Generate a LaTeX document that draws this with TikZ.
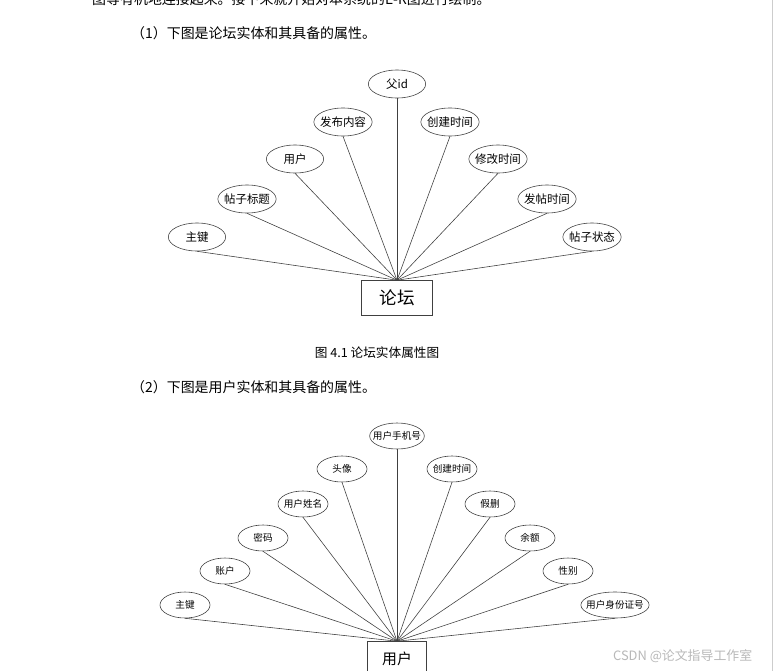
\documentclass[tikz,border=0pt]{standalone}
\usepackage{fontspec}
\setmainfont{Noto Sans CJK SC}
\usetikzlibrary{shapes.geometric}
\definecolor{LineGray}{rgb}{0.25, 0.25, 0.25}
\definecolor{MarkGray}{rgb}{0.72, 0.72, 0.72}

\begin{document}
\begin{tikzpicture}[
    x=0.03cm, y=-0.03cm,
    attr/.style={ellipse, draw=LineGray, line width=0.5pt, inner xsep=-2pt, inner ysep=0pt,
        minimum width=1.72cm, minimum height=0.84cm,
        font=\fontsize{9.8pt}{10pt}\selectfont},
    attrsmall/.style={attr, inner xsep=-4pt, minimum width=1.5cm, minimum height=0.78cm,
        font=\fontsize{8.2pt}{9pt}\selectfont},
    entity/.style={draw=LineGray, line width=0.5pt, minimum width=2.13cm, minimum height=1.05cm,
        font=\fontsize{15pt}{16pt}\selectfont},
    link/.style={draw=LineGray, line width=0.5pt},
    para/.style={anchor=west, inner sep=0pt, font=\fontsize{11.9pt}{13pt}\selectfont},
]
\useasboundingbox (0,0) rectangle (776,671);

% 正文
\node[para] (prev) at (92,-1) {图等有机地连接起来。接下来就开始对本系统的E-R图进行绘制。};
\node[para] (intro1) at (131,33) {（1）下图是论坛实体和其具备的属性。};

% 论坛实体
\node[entity] (forum) at (397,298) {论坛};

\node[attr] (fpk)      at (197,237) {主键};
\node[attr] (ftitle)   at (247,199) {帖子标题};
\node[attr] (fuser)    at (295,159) {用户};
\node[attr] (fcontent) at (343,122) {发布内容};
\node[attr] (fparent)  at (397,84)  {父id};
\node[attr] (fcreate)  at (450,122) {创建时间};
\node[attr] (fmodify)  at (498,159) {修改时间};
\node[attr] (fpost)    at (547,199) {发帖时间};
\node[attr] (fstate)   at (592,237) {帖子状态};

\draw[link] (fpk.south)      -- (forum.north);
\draw[link] (ftitle.south)   -- (forum.north);
\draw[link] (fuser.south)    -- (forum.north);
\draw[link] (fcontent.south) -- (forum.north);
\draw[link] (fparent.south)  -- (forum.north);
\draw[link] (fcreate.south)  -- (forum.north);
\draw[link] (fmodify.south)  -- (forum.north);
\draw[link] (fpost.south)    -- (forum.north);
\draw[link] (fstate.south)   -- (forum.north);

\node[font=\fontsize{10.8pt}{12pt}\selectfont] (cap1) at (377,353) {图 4.1 论坛实体属性图};

\node[para] (intro2) at (131,387) {（2）下图是用户实体和其具备的属性。};

% 用户实体
\node[entity, minimum width=1.77cm, font=\fontsize{12.7pt}{14pt}\selectfont] (user) at (397,659) {用户};

\node[attrsmall] (upk)      at (185,605) {主键};
\node[attrsmall] (uaccount) at (225,571) {账户};
\node[attrsmall] (upass)    at (263,538) {密码};
\node[attrsmall] (uname)    at (303,504) {用户姓名};
\node[attrsmall] (uavatar)  at (342,469) {头像};
\node[attrsmall] (uphone)   at (397,436) {用户手机号};
\node[attrsmall] (ucreate)  at (452,469) {创建时间};
\node[attrsmall] (udel)     at (490,504) {假删};
\node[attrsmall] (ubalance) at (530,538) {余额};
\node[attrsmall] (usex)     at (568,571) {性别};
\node[attrsmall] (uidcard)  at (615,605) {用户身份证号};

\draw[link] (upk.south)      -- (user.north);
\draw[link] (uaccount.south) -- (user.north);
\draw[link] (upass.south)    -- (user.north);
\draw[link] (uname.south)    -- (user.north);
\draw[link] (uavatar.south)  -- (user.north);
\draw[link] (uphone.south)   -- (user.north);
\draw[link] (ucreate.south)  -- (user.north);
\draw[link] (udel.south)     -- (user.north);
\draw[link] (ubalance.south) -- (user.north);
\draw[link] (usex.south)     -- (user.north);
\draw[link] (uidcard.south)  -- (user.north);

% 水印与边线
\node[anchor=west, text=MarkGray, font=\fontsize{11pt}{12pt}\selectfont] (mark) at (609,656)
    {CSDN @论文指导工作室};
\draw[MarkGray!70, line width=0.6pt] (772,0) -- (772,671);

\end{tikzpicture}
\end{document}
